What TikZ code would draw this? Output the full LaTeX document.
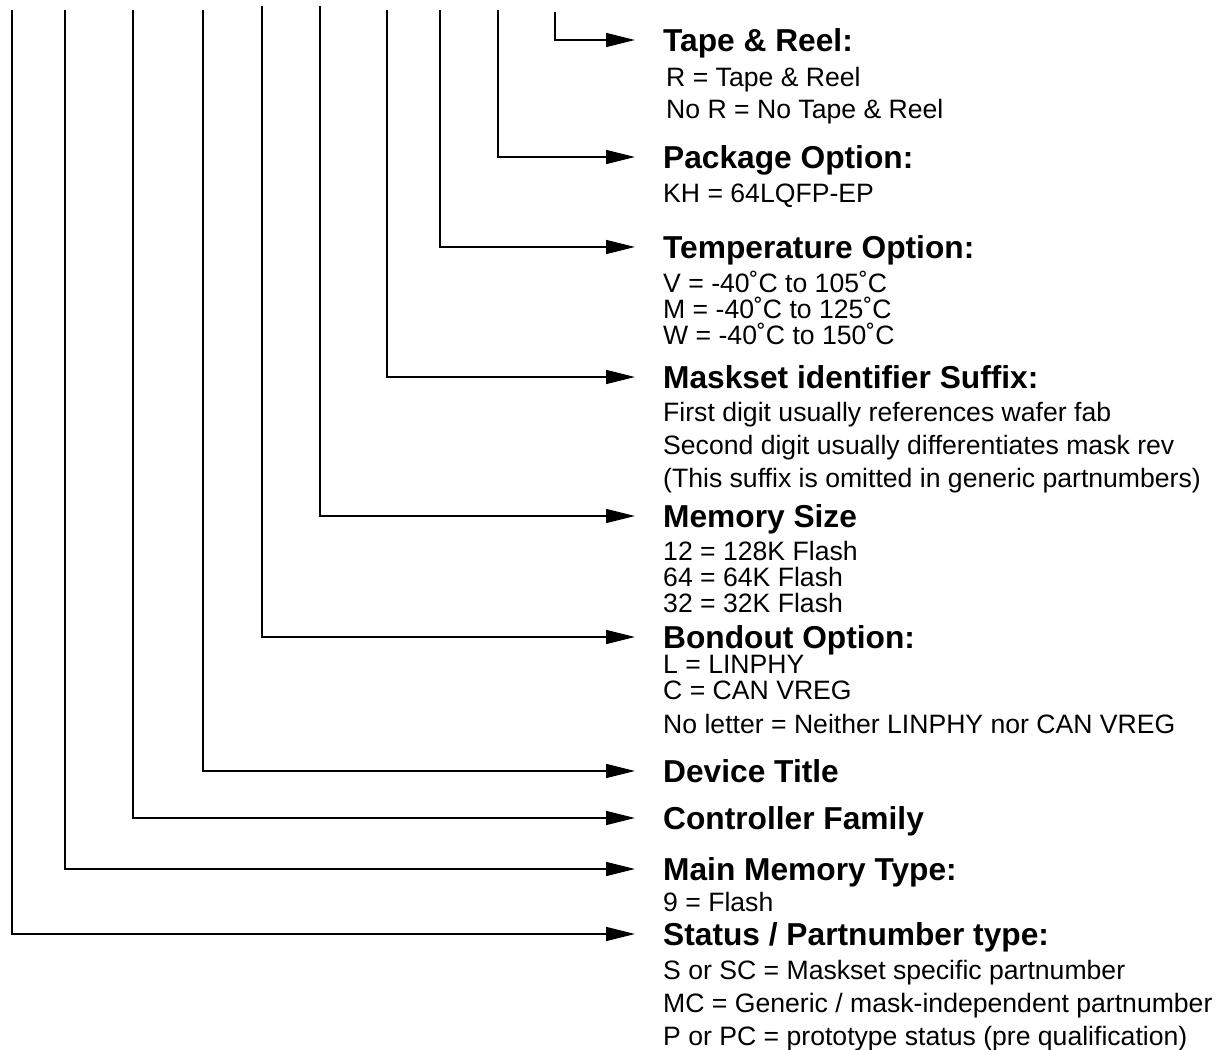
\documentclass[tikz,border=0pt]{standalone}
\usepackage{fontspec}
\setmainfont{Liberation Sans}
\usetikzlibrary{arrows.meta}
\tikzset{
  lbl/.style={anchor=west, inner sep=0pt, text depth=0pt},
  head/.style={lbl, font=\fontsize{31.7}{34}\selectfont\bfseries, text height=22.7pt},
  desc/.style={lbl, font=\fontsize{26.6}{28}\selectfont, text height=19pt},
  conn/.style={line width=1.5pt, -{Triangle[length=29pt,width=14pt]}, shorten >=28pt}
}
\begin{document}
\begin{tikzpicture}[x=1pt,y=-1pt]
\useasboundingbox (0,0) rectangle (1217,1049);
% headings
\node[head] (hTR) at (663,40) {Tape \& Reel:};
\node[desc] (dTRa) at (666,77) {R = Tape \& Reel};
\node[desc] (dTRb) at (666,109) {No R = No Tape \& Reel};
\node[head] (hPO) at (663,157) {Package Option:};
\node[desc] (dPO) at (663,193) {KH = 64LQFP-EP};
\node[head] (hTO) at (663,247) {Temperature Option:};
\node[desc] (dTOa) at (663,283) {V = -40˚C to 105˚C};
\node[desc] (dTOb) at (663,309) {M = -40˚C to 125˚C};
\node[desc] (dTOc) at (663,335) {W = -40˚C to 150˚C};
\node[head] (hMS) at (663,377) {Maskset identifier Suffix:};
\node[desc] (dMSa) at (663,412) {First digit usually references wafer fab};
\node[desc] (dMSb) at (663,445) {Second digit usually differentiates mask rev};
\node[desc] (dMSc) at (663,478) {(This suffix is omitted in generic partnumbers)};
\node[head] (hMZ) at (663,516) {Memory Size};
\node[desc] (dMZa) at (663,551) {12 = 128K Flash};
\node[desc] (dMZb) at (663,577) {64 = 64K Flash};
\node[desc] (dMZc) at (663,603) {32 = 32K Flash};
\node[head] (hBO) at (663,637) {Bondout Option:};
\node[desc] (dBOa) at (663,664) {L = LINPHY};
\node[desc] (dBOb) at (663,690) {C = CAN VREG};
\node[desc] (dBOc) at (663,724) {No letter = Neither LINPHY nor CAN VREG};
\node[head] (hDT) at (663,771) {Device Title};
\node[head] (hCF) at (663,818) {Controller Family};
\node[head] (hMM) at (663,869) {Main Memory Type:};
\node[desc] (dMM) at (663,902) {9 = Flash};
\node[head] (hST) at (663,934) {Status / Partnumber type:};
\node[desc] (dSTa) at (663,970) {S or SC = Maskset specific partnumber};
\node[desc] (dSTb) at (663,1003) {MC = Generic / mask-independent partnumber};
\node[desc] (dSTc) at (663,1036) {P or PC = prototype status (pre qualification)};
% top ends
\coordinate (tTR) at (555,12);
\coordinate (tPO) at (498,10);
\coordinate (tTO) at (440,10);
\coordinate (tMS) at (387,10);
\coordinate (tMZ) at (320,6);
\coordinate (tBO) at (262,6);
\coordinate (tDT) at (203,10);
\coordinate (tCF) at (133,10);
\coordinate (tMM) at (65,10);
\coordinate (tST) at (12,10);
% connectors
\draw[conn] (tTR) |- (hTR.west);
\draw[conn] (tPO) |- (hPO.west);
\draw[conn] (tTO) |- (hTO.west);
\draw[conn] (tMS) |- (hMS.west);
\draw[conn] (tMZ) |- (hMZ.west);
\draw[conn] (tBO) |- (hBO.west);
\draw[conn] (tDT) |- (hDT.west);
\draw[conn] (tCF) |- (hCF.west);
\draw[conn] (tMM) |- (hMM.west);
\draw[conn] (tST) |- (hST.west);
\end{tikzpicture}
\end{document}
